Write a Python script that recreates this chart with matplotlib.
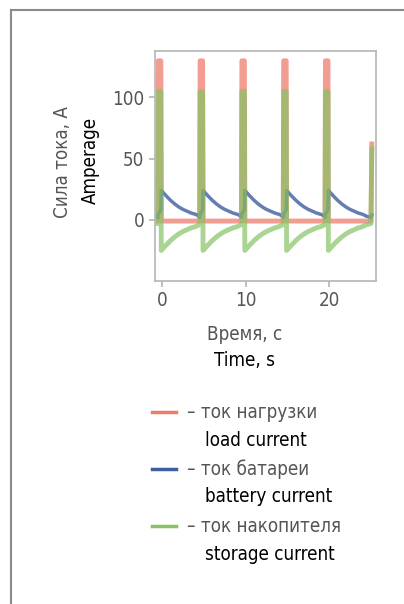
import numpy as np
import matplotlib
matplotlib.use('Agg')
import matplotlib.pyplot as plt
from matplotlib import font_manager
from matplotlib.lines import Line2D

# one 5 s cycle, times relative to the pulse
cycle_t = [-0.5, -0.45, -0.15, -0.1, 0.5, 1.0, 1.5, 2.0, 2.5, 3.0, 3.5, 4.0, 4.45]
load_cycle = [-1, 130, 130, -1, -1, -1, -1, -1, -1, -1, -1, -1, -1]
battery_cycle = [2, 5, 8, 24, 19.5, 16, 13, 10.5, 8.5, 7, 5.5, 4.5, 3]
storage_cycle = [-3, 105, 105, -25, -20.5, -17, -14, -11.5, -9.5, -8, -6.5, -5.5, -4]
pulses = [0, 5, 10, 15, 20]
# last pulse cut off at the end of the record
tail_t = [25.0, 25.1]
tail_load = [-1, 62]
tail_battery = [2, 4]
tail_storage = [-3, 58]

xticks = [0, 10, 20]
yticks = [0, 50, 100]

# look for a narrow face, fall back to DejaVu Sans
narrow = [f for f in font_manager.fontManager.ttflist
          if ('Condensed' in f.fname or 'Narrow' in f.fname)
          and 'Bold' not in f.fname and 'Oblique' not in f.fname and 'Italic' not in f.fname]
if narrow:
    fp = font_manager.FontProperties(fname=narrow[0].fname, size=13.5)
    tick_fp = font_manager.FontProperties(fname=narrow[0].fname, size=13.5)
else:
    fp = font_manager.FontProperties(family='DejaVu Sans', size=13)
    tick_fp = font_manager.FontProperties(family='DejaVu Sans', size=13)

t = np.concatenate([np.array(cycle_t) + p for p in pulses] + [tail_t])
load = np.concatenate([load_cycle] * len(pulses) + [tail_load])
battery = np.concatenate([battery_cycle] * len(pulses) + [tail_battery])
storage = np.concatenate([storage_cycle] * len(pulses) + [tail_storage])

fig = plt.figure(figsize=(4.04, 6.04), dpi=100)
ax = fig.add_axes([155 / 404, 1 - 281 / 604, 221 / 404, 230 / 604])

red = '#ef7b6c'
blue = '#3e5e9e'
green = '#86c364'
ax.plot(t, load, color=red, lw=3.5, alpha=0.75)
ax.plot(t, battery, color=blue, lw=2.5, alpha=0.8)
ax.plot(t, storage, color=green, lw=3.5, alpha=0.7)

ax.set_xlim(-0.85, 25.6)
ax.set_ylim(-50, 138)
ax.set_xticks(xticks)
ax.set_yticks(yticks)
for s in ax.spines.values():
    s.set_color('#b5b5b5')
    s.set_linewidth(1.2)
ax.tick_params(colors='#b5b5b5', labelcolor='#555555', length=4, width=1.2)
for lab in ax.get_xticklabels() + ax.get_yticklabels():
    lab.set_fontproperties(tick_fp)

fig.text(62 / 404, 1 - 162 / 604, 'Сила тока, А', rotation=90, ha='center', va='center',
         color='#555555', fontproperties=fp)
fig.text(90 / 404, 1 - 160 / 604, 'Amperage', rotation=90, ha='center', va='center',
         color='black', fontproperties=fp)
fig.text(245 / 404, 1 - 334 / 604, 'Время, с', ha='center', va='center', color='#555555', fontproperties=fp)
fig.text(245 / 404, 1 - 361 / 604, 'Time, s', ha='center', va='center', color='black', fontproperties=fp)

# hand-made legend
legend_items = [(red, 'ток нагрузки', 'load current'),
                (blue, 'ток батареи', 'battery current'),
                (green, 'ток накопителя', 'storage current')]
for i, (c, ru, en) in enumerate(legend_items):
    y = 412 + i * 57
    fig.add_artist(Line2D([152 / 404, 176 / 404], [1 - y / 604] * 2, color=c, lw=2.5,
                          transform=fig.transFigure))
    fig.text(187 / 404, 1 - y / 604, '– ' + ru, ha='left', va='center', color='#555555', fontproperties=fp)
    fig.text(205 / 404, 1 - (y + 28) / 604, en, ha='left', va='center', color='black', fontproperties=fp)

# page frame
fig.add_artist(Line2D([11 / 404, 11 / 404], [0, 1 - 10 / 604], color='#8a8a8a', lw=1.5,
                      transform=fig.transFigure))
fig.add_artist(Line2D([11 / 404, 1], [1 - 10 / 604] * 2, color='#8a8a8a', lw=1.5,
                      transform=fig.transFigure))

fig.savefig('out.png', dpi=100)
